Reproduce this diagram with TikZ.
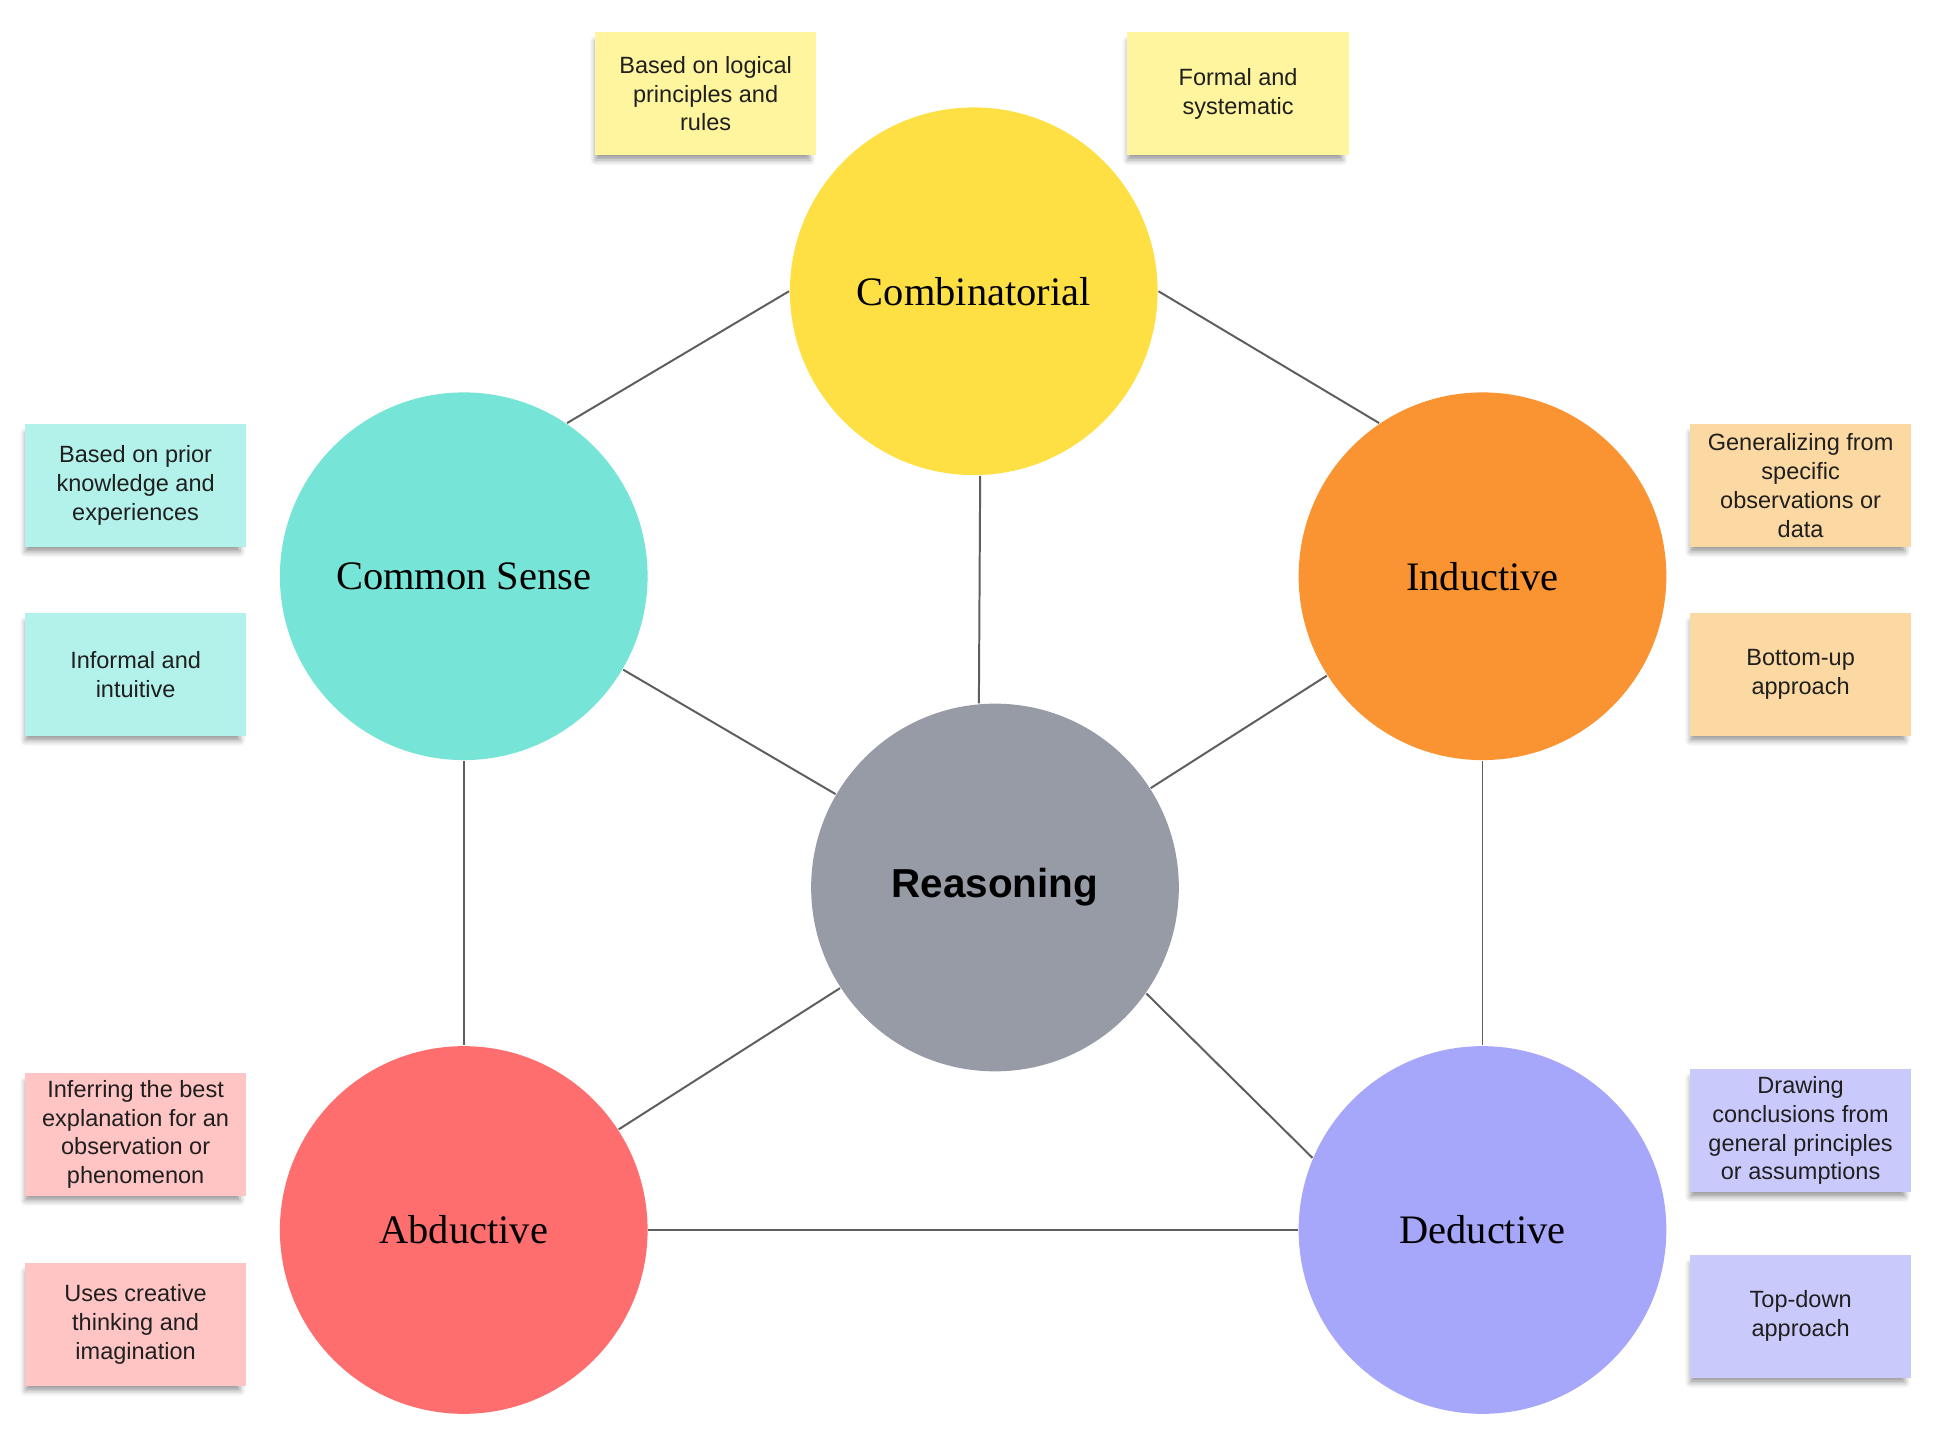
\documentclass[tikz,border=0pt]{standalone}
\usepackage{fontspec}
\setmainfont{Liberation Serif}
\setsansfont{Liberation Sans}
\usetikzlibrary{shadows.blur}

\definecolor{combi}{HTML}{FEE044}
\definecolor{common}{HTML}{76E4D6}
\definecolor{induct}{HTML}{FA9432}
\definecolor{reason}{HTML}{969BA6}
\definecolor{abduct}{HTML}{FF6E6E}
\definecolor{deduct}{HTML}{A6A6FA}
\definecolor{combinote}{HTML}{FFF59E}
\definecolor{commonnote}{HTML}{B3F2EA}
\definecolor{inductnote}{HTML}{FCD9A2}
\definecolor{abductnote}{HTML}{FFC4C4}
\definecolor{deductnote}{HTML}{C9C9FC}
\definecolor{linkgray}{HTML}{5E5E5E}

\tikzset{
  idea/.style={circle, minimum size=2.94cm, inner sep=0pt, font=\fontsize{9.2}{11}\selectfont},
  note/.style={rectangle, minimum width=1.77cm, minimum height=0.98cm, inner sep=0pt, align=center,
    text=black!88, font=\sffamily\fontsize{5.35}{6.54}\selectfont,
    blur shadow={shadow xshift=-0.7pt, shadow yshift=-1.6pt, shadow blur radius=1.3pt, shadow opacity=40, shadow scale=0.97}},
  link/.style={draw=linkgray, line width=0.45pt}
}

\begin{document}
\begin{tikzpicture}[x=0.01cm, y=-0.01cm]
                \useasboundingbox (0,0) rectangle (1568,1148);

                \node[idea, fill=combi] (comb) at (779,233) {Combinatorial};
                \node[idea, fill=common] (cs) at (371,461) {Common Sense};
                \node[idea, fill=induct] (ind) at (1186,461) {Inductive};
                \node[idea, fill=reason, font=\sffamily\bfseries\fontsize{9.2}{11}\selectfont] (reas) at (796,710) {Reasoning};
                \node[idea, fill=abduct] (abd) at (371,984) {Abductive};
                \node[idea, fill=deduct] (ded) at (1186,984) {Deductive};

                \draw[link] (comb.west) -- (cs.56);
                \draw[link] (comb.east) -- (ind.124);
                \draw[link] (comb.-88) -- (reas.95);
                \draw[link] (cs) -- (reas);
                \draw[link] (ind) -- (reas);
                \draw[link] (cs.south) -- (abd.north);
                \draw[link] (ind.south) -- (ded.north);
                \draw[link] (reas.213) -- (abd.33);
                \draw[link] (reas.-35) -- (ded.157);
                \draw[link] (abd.east) -- (ded.west);

                \node[note, fill=combinote] (logical) at (564.5,75) {Based on logical\\principles and\\rules};
                \node[note, fill=combinote] (formal) at (990.5,75) {Formal and\\systematic};
                \node[note, fill=commonnote] (prior) at (108.5,388.5) {Based on prior\\knowledge and\\experiences};
                \node[note, fill=commonnote] (informal) at (108.5,539.5) {Informal and\\intuitive};
                \node[note, fill=inductnote] (general) at (1440.5,388.5) {Generalizing from\\specific\\observations or\\data};
                \node[note, fill=inductnote] (bottomup) at (1440.5,539.5) {Bottom-up\\approach};
                \node[note, fill=abductnote] (inferring) at (108.5,907.5) {Inferring the best\\explanation for an\\observation or\\phenomenon};
                \node[note, fill=abductnote] (creative) at (108.5,1059.5) {Uses creative\\thinking and\\imagination};
                \node[note, fill=deductnote] (drawing) at (1440.5,904.5) {Drawing\\conclusions from\\general principles\\or assumptions};
                \node[note, fill=deductnote] (topdown) at (1440.5,1053) {Top-down\\approach};
\end{tikzpicture}
\end{document}
